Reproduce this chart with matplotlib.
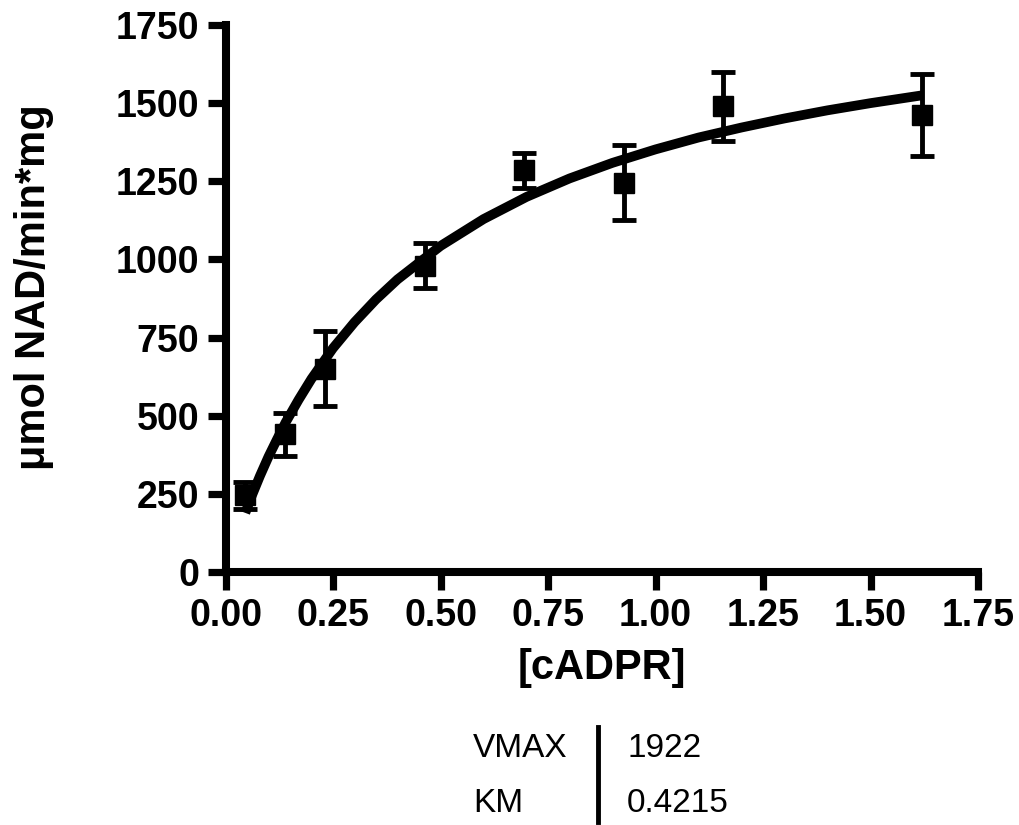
import matplotlib
matplotlib.use("Agg")
import matplotlib.pyplot as plt

# Measured points (mean +/- error)
cadpr = [0.046, 0.139, 0.231, 0.463, 0.694, 0.926, 1.157, 1.620]
rate = [245, 440, 650, 980, 1285, 1245, 1490, 1462]
err = [42, 68, 120, 72, 57, 120, 110, 130]

# Fitted curve
curve_x = [0.046, 0.06, 0.08, 0.10, 0.12, 0.14, 0.17, 0.20, 0.25, 0.30, 0.35,
           0.40, 0.50, 0.60, 0.70, 0.80, 0.90, 1.00, 1.10, 1.20, 1.30, 1.40,
           1.50, 1.62]
curve_y = [189, 240, 307, 369, 425, 479, 551, 618, 716, 799, 872,
           936, 1043, 1129, 1200, 1259, 1309, 1352, 1390, 1422, 1451, 1477,
           1500, 1525]

params = ["VMAX", "KM"]
param_vals = ["1922", "0.4215"]

plt.rcParams['font.family'] = ['Liberation Sans', 'DejaVu Sans']

fig = plt.figure(figsize=(10.19, 8.25), dpi=100)
ax = fig.add_axes([0.2213, 0.3067, 0.7385, 0.6630])

ax.plot(curve_x, curve_y, color='black', lw=7, solid_capstyle='butt', zorder=2)
ax.errorbar(cadpr, rate, yerr=err, fmt='s', color='black', ms=15,
            elinewidth=3.5, capsize=8.5, capthick=3.5, zorder=3)

ax.set_xlim(0, 1.75)
ax.set_ylim(0, 1750)
ax.set_xticks([0, 0.25, 0.5, 0.75, 1.0, 1.25, 1.5, 1.75])
ax.set_xticklabels(["0.00", "0.25", "0.50", "0.75", "1.00", "1.25", "1.50", "1.75"])
ax.set_yticks(range(0, 1751, 250))

for side in ['top', 'right']:
    ax.spines[side].set_visible(False)
for side in ['left', 'bottom']:
    ax.spines[side].set_linewidth(5.8)
    ax.spines[side].set_capstyle('projecting')
ax.tick_params(width=5.2, length=13, labelsize=27, pad=6)
for lbl in ax.get_xticklabels() + ax.get_yticklabels():
    lbl.set_fontweight('bold')

ax.set_xlabel("[cADPR]", fontsize=30, fontweight='bold', labelpad=10)
ax.set_ylabel("\u03bcmol NAD/min*mg", fontsize=30, fontweight='bold')
ax.yaxis.set_label_coords(-0.228, 0.52)

# parameter table under the plot
for i, (p, v) in enumerate(zip(params, param_vals)):
    yy = 1 - (757 + i * 55) / 825
    fig.text(473 / 1019, yy, p, fontsize=24, ha='left', va='baseline')
    fig.text(627 / 1019, yy, v, fontsize=24, ha='left', va='baseline')
fig.add_artist(plt.Line2D([598 / 1019, 598 / 1019], [1 - 727 / 825, 1 - 822 / 825],
                          color='black', lw=3.5, transform=fig.transFigure))

fig.savefig("out.png", dpi=100)
